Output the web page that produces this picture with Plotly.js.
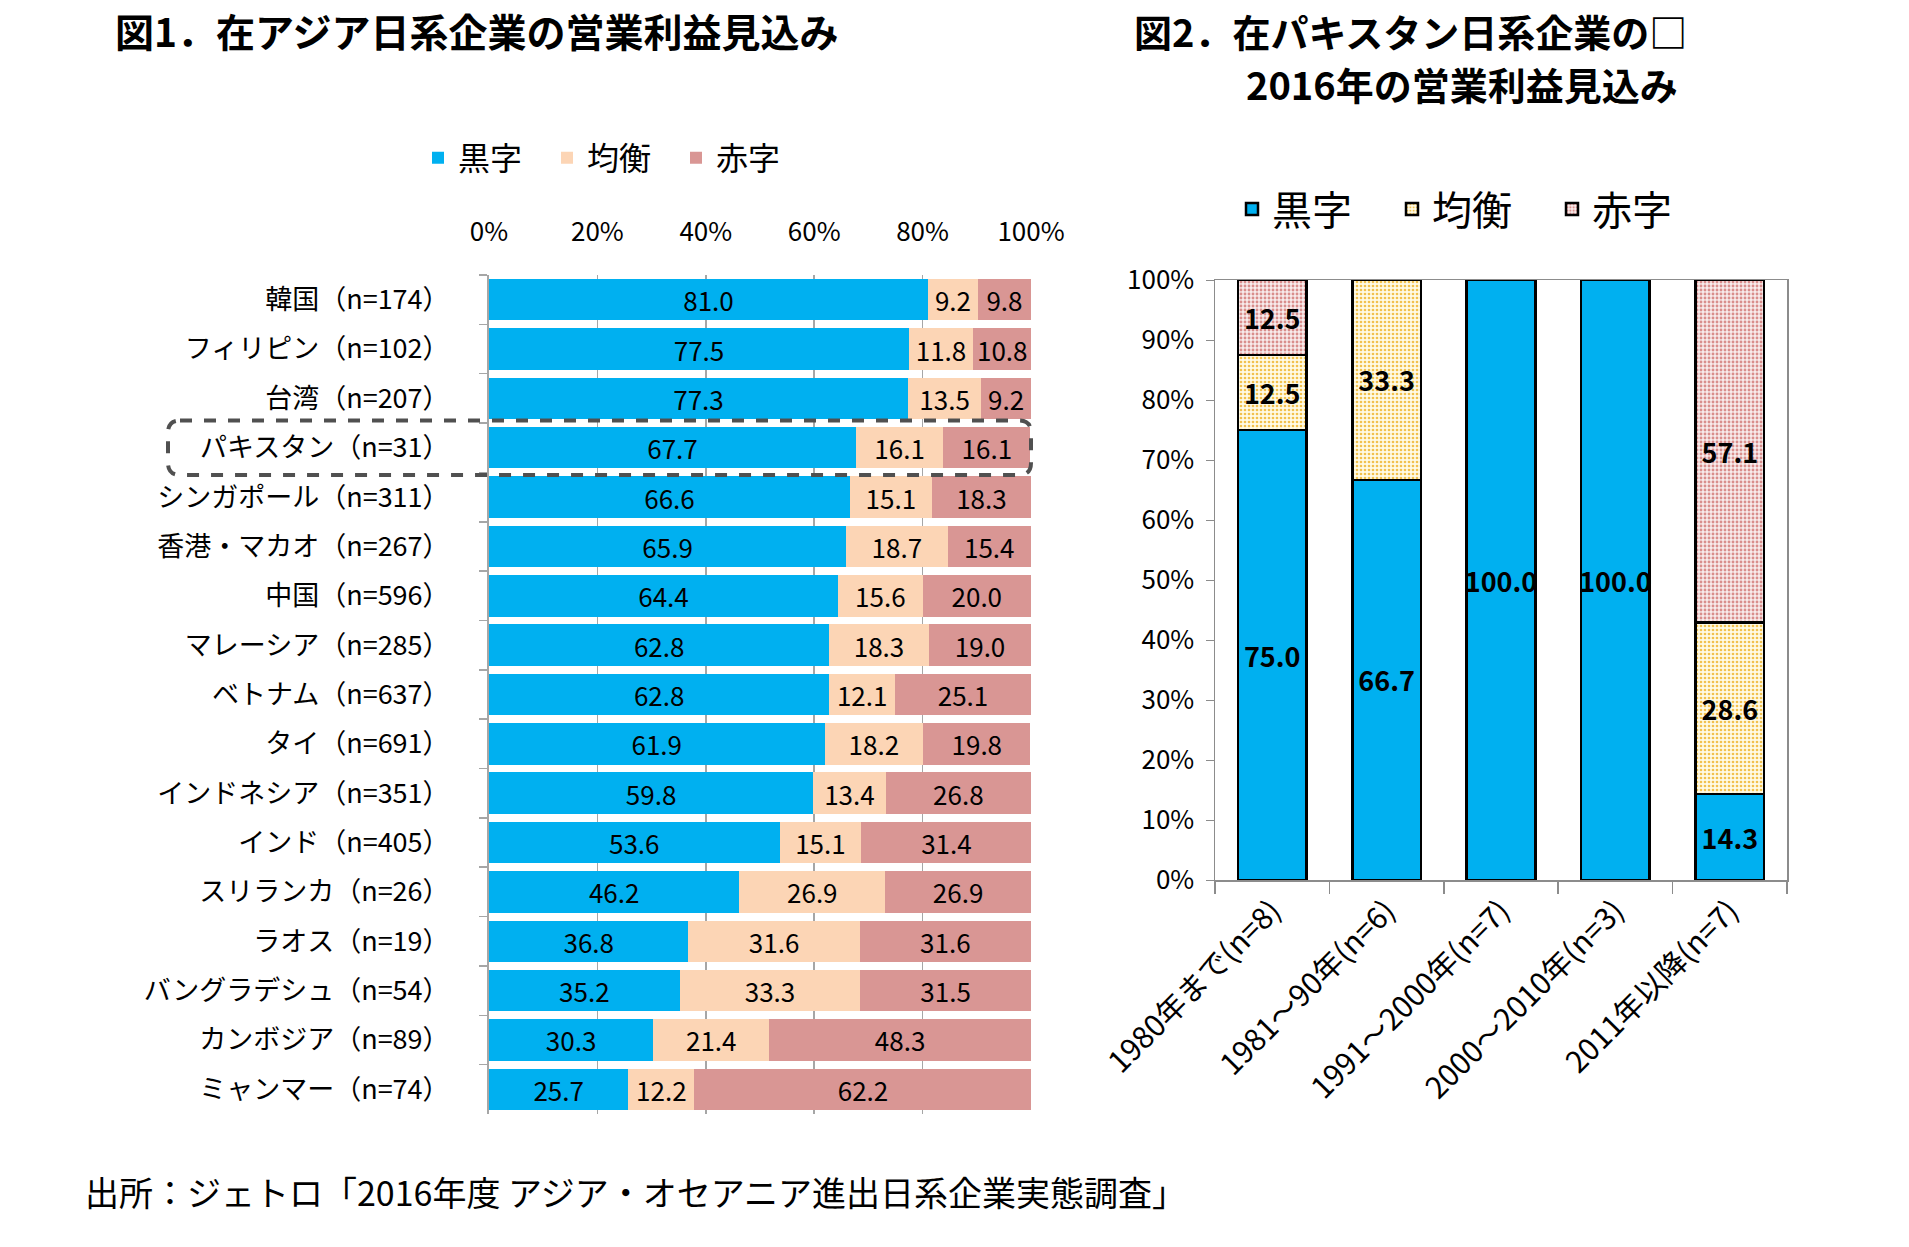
<!DOCTYPE html>
<html>
<head>
<meta charset="utf-8">
<script src="https://cdn.plot.ly/plotly-3.0.1.min.js"></script>
<style>html,body{margin:0;padding:0;background:#fff;}#chart{width:1909px;height:1247px;}</style>
</head>
<body>
<div id="chart"></div>
<script>
// ---------- Data: Figure 1 ----------
const countries = ["韓国（n=174）","フィリピン（n=102）","台湾（n=207）","パキスタン（n=31）","シンガポール（n=311）","香港・マカオ（n=267）","中国（n=596）","マレーシア（n=285）","ベトナム（n=637）","タイ（n=691）","インドネシア（n=351）","インド（n=405）","スリランカ（n=26）","ラオス（n=19）","バングラデシュ（n=54）","カンボジア（n=89）","ミャンマー（n=74）"];
const profit1 = [81.0,77.5,77.3,67.7,66.6,65.9,64.4,62.8,62.8,61.9,59.8,53.6,46.2,36.8,35.2,30.3,25.7];
const even1   = [9.2,11.8,13.5,16.1,15.1,18.7,15.6,18.3,12.1,18.2,13.4,15.1,26.9,31.6,33.3,21.4,12.2];
const loss1   = [9.8,10.8,9.2,16.1,18.3,15.4,20.0,19.0,25.1,19.8,26.8,31.4,26.9,31.6,31.5,48.3,62.2];
const xTicks1 = [0,20,40,60,80,100];
const highlight = "パキスタン（n=31）";

// ---------- Data: Figure 2 ----------
const periods = ["1980年まで(n=8)","1981～90年(n=6)","1991～2000年(n=7)","2000～2010年(n=3)","2011年以降(n=7)"];
const profit2 = [75.0,66.7,100.0,100.0,14.3];
const even2   = [12.5,33.3,0,0,28.6];
const loss2   = [12.5,0,0,0,57.1];

const seriesNames = ["黒字","均衡","赤字"];

// ---------- Styles ----------
const FONT = '"Noto Sans CJK JP", "Noto Sans", sans-serif';
const W = 1909, H = 1247;
const c1 = ["#00B0F0","#FCD5B5","#D99694"];

const d1x = [489/W, 1031/W];
const d1y = [1-1114/H, 1-275/H];
const d2x = [1215/W, 1787/W];
const d2y = [1-880/H, 1-280/H];

const fmt = v => (v > 0 ? v.toFixed(1) : "");

const traces = [];
[profit1, even1, loss1].forEach((vals, i) => {
  traces.push({
    type: "bar", orientation: "h",
    x: vals, y: countries, name: seriesNames[i],
    xaxis: "x", yaxis: "y", legend: "legend",
    marker: {color: c1[i], line: {width: 0}},
    text: vals.map(fmt), textposition: "inside", insidetextanchor: "middle",
    textangle: 0,
    textfont: {family: FONT, size: 26, color: "#000"},
    hoverinfo: "x+y+name"
  });
});

const pat2 = [
  {color: "#00B0F0"},
  {color: "#FFF6CC", pattern: {shape: ".", fgcolor: "#F2C14E", bgcolor: "#FFFBE6", size: 4, solidity: 0.35}},
  {color: "#F4E1E1", pattern: {shape: ".", fgcolor: "#D98E8C", bgcolor: "#F8ECEC", size: 4, solidity: 0.4}}
];
[profit2, even2, loss2].forEach((vals, i) => {
  const m = Object.assign({}, pat2[i], {line: {color: "#000", width: 2.5}});
  traces.push({
    type: "bar",
    x: periods, y: vals, name: seriesNames[i],
    xaxis: "x2", yaxis: "y2", legend: "legend2",
    width: 0.6,
    marker: m,
    text: vals.map(fmt), textposition: "inside", insidetextanchor: "middle",
    textangle: 0,
    textfont: {family: FONT, size: 27, color: "#000", weight: "bold"},
    hoverinfo: "x+y+name"
  });
});

// rounded dashed highlight box around the Pakistan row (paper coords from category index)
const idx = countries.indexOf(highlight);
const N = countries.length;
const rowH = (d1y[1]-d1y[0]) / N;
const yTop = d1y[1] - idx*rowH + 0.002;
const yBot = d1y[1] - (idx+1)*rowH - 0.002;
const xL = 168/W, xR = 1031/W;
const rx = 12/W, ry = 12/H;
const boxPath = `M ${xL+rx},${yTop} L ${xR-rx},${yTop} Q ${xR},${yTop} ${xR},${yTop-ry} L ${xR},${yBot+ry} Q ${xR},${yBot} ${xR-rx},${yBot} L ${xL+rx},${yBot} Q ${xL},${yBot} ${xL},${yBot+ry} L ${xL},${yTop-ry} Q ${xL},${yTop} ${xL+rx},${yTop} Z`;

const layout = {
  width: W, height: H, autosize: false,
  margin: {l: 0, r: 0, t: 0, b: 0},
  paper_bgcolor: "#fff", plot_bgcolor: "rgba(0,0,0,0)",
  font: {family: FONT, color: "#000"},
  barmode: "stack",
  bargap: 0.16,
  uniformtext: {mode: "show", minsize: 26},
  showlegend: true,
  xaxis: {
    domain: d1x, anchor: "y", side: "top", range: [0, 100],
    tickvals: xTicks1, ticktext: xTicks1.map(v => v + "%"),
    showgrid: true, gridcolor: "#A6A6A6", gridwidth: 1.5,
    zeroline: false, showline: false, ticks: "",
    ticklabelstandoff: 28,
    tickfont: {family: FONT, size: 26, color: "#000"}, fixedrange: true
  },
  xaxis3: {
    domain: d1x, anchor: "y", overlaying: "x", side: "bottom", range: [0, 100],
    tickvals: xTicks1, showticklabels: false, showgrid: false, zeroline: false,
    showline: true, linecolor: "#A6A6A6", linewidth: 1.5,
    ticks: "outside", ticklen: 6, tickcolor: "#A6A6A6", tickwidth: 1.5
  },
  yaxis: {
    domain: d1y, anchor: "x", autorange: "reversed", type: "category",
    showline: true, linecolor: "#A6A6A6", linewidth: 2,
    ticks: "outside", tickson: "boundaries", ticklen: 8, tickcolor: "#A6A6A6", tickwidth: 1.5,
    showgrid: false, ticklabelstandoff: 32,
    tickfont: {family: FONT, size: 27, color: "#000"}, fixedrange: true
  },
  xaxis2: {
    domain: d2x, anchor: "y2", type: "category",
    showline: true, mirror: true, linecolor: "#8C8C8C", linewidth: 1.5,
    ticks: "outside", tickson: "boundaries", ticklen: 12, tickcolor: "#8C8C8C", tickwidth: 1.5,
    tickangle: -45, showgrid: false,
    tickfont: {family: FONT, size: 30, color: "#000"}, fixedrange: true
  },
  yaxis2: {
    domain: d2y, anchor: "x2", range: [0, 100], dtick: 10, ticksuffix: "%",
    showline: true, mirror: true, linecolor: "#8C8C8C", linewidth: 1.5,
    ticks: "outside", ticklen: 8, tickcolor: "#8C8C8C", showgrid: false, zeroline: false,
    ticklabelstandoff: 6,
    tickfont: {family: FONT, size: 26, color: "#000"}, fixedrange: true
  },
  legend: {
    orientation: "h", x: 418/W, xanchor: "left", y: 1-158/H, yanchor: "middle",
    font: {family: FONT, size: 32, color: "#000"}, traceorder: "normal",
    entrywidth: 84, entrywidthmode: "pixels", itemwidth: 30, bgcolor: "rgba(0,0,0,0)"
  },
  legend2: {
    orientation: "h", x: 1232/W, xanchor: "left", y: 1-209/H, yanchor: "middle",
    font: {family: FONT, size: 40, color: "#000"}, traceorder: "normal",
    entrywidth: 115, entrywidthmode: "pixels", itemwidth: 30, bgcolor: "rgba(0,0,0,0)"
  },
  shapes: [{
    type: "path", xref: "paper", yref: "paper", path: boxPath,
    line: {color: "#505050", width: 4, dash: "dash"}, layer: "above"
  }],
  annotations: [
    {xref: "paper", yref: "paper", x: 113/W, y: 1-30/H, xanchor: "left", yanchor: "middle", showarrow: false,
     text: "<b>図1．在アジア日系企業の営業利益見込み</b>", font: {family: FONT, size: 39, color: "#000"}},
    {xref: "paper", yref: "paper", x: 1132/W, y: 1-30/H, xanchor: "left", yanchor: "middle", showarrow: false,
     text: "<b>図2．在パキスタン日系企業の□</b>", font: {family: FONT, size: 38, color: "#000"}},
    {xref: "paper", yref: "paper", x: 1244/W, y: 1-84/H, xanchor: "left", yanchor: "middle", showarrow: false,
     text: "<b>2016年の営業利益見込み</b>", font: {family: FONT, size: 38, color: "#000"}},
    {xref: "paper", yref: "paper", x: 83/W, y: 1-1191/H, xanchor: "left", yanchor: "middle", showarrow: false,
     text: "出所：ジェトロ「2016年度 アジア・オセアニア進出日系企業実態調査」", font: {family: FONT, size: 34, color: "#000"}}
  ]
};

Plotly.newPlot("chart", traces, layout, {displayModeBar: false, staticPlot: true});
</script>
</body>
</html>
